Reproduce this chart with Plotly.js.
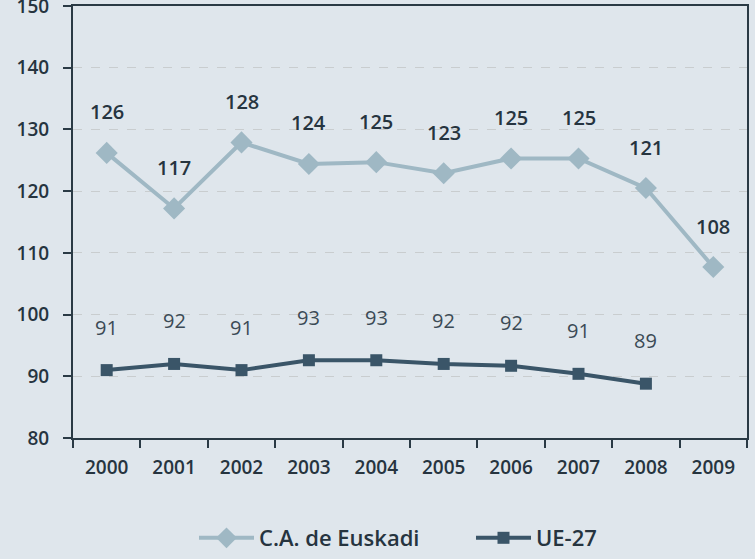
<!DOCTYPE html>
<html>
<head>
<meta charset="utf-8">
<script src="https://cdn.plot.ly/plotly-3.0.1.min.js"></script>
<style>
html,body{margin:0;padding:0;background:#dfe6ec;}
#chart{width:755px;height:559px;}
</style>
</head>
<body>
<div id="chart"></div>
<script>
const years = ['2000','2001','2002','2003','2004','2005','2006','2007','2008','2009'];
const euskadiValues = [126.2, 117.2, 127.9, 124.4, 124.7, 122.9, 125.3, 125.3, 120.5, 107.7];
const euskadiLabels = ['126','117','128','124','125','123','125','125','121','108'];
const ueYears = ['2000','2001','2002','2003','2004','2005','2006','2007','2008'];
const ueValues = [91.0, 92.0, 91.0, 92.6, 92.6, 92.0, 91.7, 90.4, 88.8];
const ueLabels = ['91','92','91','93','93','92','92','91','89'];
const seriesNames = ['C.A. de Euskadi', 'UE-27'];

const FONT = 'Open Sans, DejaVu Sans, sans-serif';
const dark = '#26343f';

const traces = [
  {
    x: years, y: euskadiValues, name: seriesNames[0], type: 'scatter', mode: 'lines+markers',
    line: {color: '#9fb8c4', width: 4},
    marker: {symbol: 'diamond', size: 17, color: '#9fb8c4'}
  },
  {
    x: ueYears, y: ueValues, name: seriesNames[1], type: 'scatter', mode: 'lines+markers',
    line: {color: '#3a5568', width: 4},
    marker: {symbol: 'square', size: 12, color: '#3a5568'}
  }
];

const annotations = [];
years.forEach((yr, i) => {
  annotations.push({x: years.indexOf(yr), y: euskadiValues[i], xref: 'x', yref: 'y', text: euskadiLabels[i],
    showarrow: false, yshift: 41, font: {family: FONT, size: 20, color: dark, weight: 600}});
});
ueYears.forEach((yr, i) => {
  annotations.push({x: years.indexOf(yr), y: ueValues[i], xref: 'x', yref: 'y', text: ueLabels[i],
    showarrow: false, yshift: 43, font: {family: FONT, size: 20, color: '#3b4a55'}});
});

const layout = {
  width: 755, height: 559,
  paper_bgcolor: '#dfe6ec', plot_bgcolor: '#dfe6ec',
  margin: {l: 73, r: 8, t: 6, b: 121, autoexpand: false},
  showlegend: true,
  legend: {orientation: 'h', x: 0.5905, xanchor: 'center', y: -0.2801, yanchor: 'bottom',
    font: {family: FONT, size: 22, color: dark, weight: 600}, itemwidth: 55,
    entrywidth: 207, entrywidthmode: 'pixels',
    bgcolor: 'rgba(0,0,0,0)'},
  xaxis: {
    type: 'category', categoryarray: years, range: [-0.5, 9.5],
    showline: true, linecolor: '#2a3a45', linewidth: 2, mirror: true,
    ticks: 'outside', tickson: 'boundaries', ticklen: 8, tickwidth: 2, tickcolor: '#2a3a45',
    showgrid: false, zeroline: false, ticklabelstandoff: 11,
    tickfont: {family: FONT, size: 19, color: dark, weight: 600}
  },
  yaxis: {
    range: [80, 150], dtick: 10, tick0: 80,
    showline: true, linecolor: '#2a3a45', linewidth: 2, mirror: true,
    ticks: 'outside', ticklen: 8, tickwidth: 2, tickcolor: '#2a3a45',
    showgrid: true, gridcolor: '#c9cdcf', griddash: 'dash', gridwidth: 1,
    zeroline: false, ticklabelstandoff: 10, ticklabeloverflow: 'allow',
    tickfont: {family: FONT, size: 19, color: dark, weight: 600}
  },
  annotations: annotations
};

Plotly.newPlot('chart', traces, layout, {displayModeBar: false, staticPlot: true});
</script>
</body>
</html>
